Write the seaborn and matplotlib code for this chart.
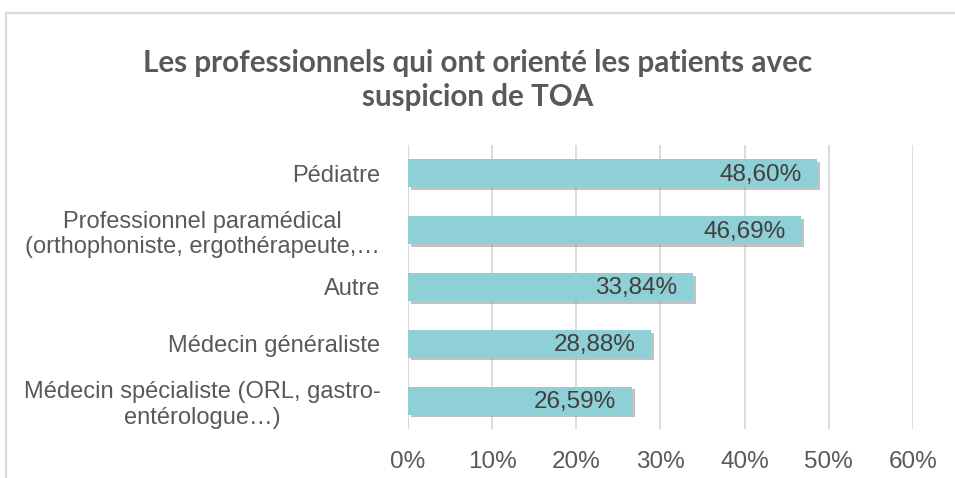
import matplotlib
matplotlib.use("Agg")
import matplotlib.pyplot as plt
import matplotlib.patheffects as pe
from matplotlib.lines import Line2D
from matplotlib.ticker import FuncFormatter
import pandas as pd
import seaborn as sns

# data
categories = [
    "Pédiatre",
    "Professionnel paramédical\n(orthophoniste, ergothérapeute,…",
    "Autre",
    "Médecin généraliste",
    "Médecin spécialiste (ORL, gastro-\nentérologue…)",
]
values = [48.60, 46.69, 33.84, 28.88, 26.59]
value_labels = ["48,60%", "46,69%", "33,84%", "28,88%", "26,59%"]
x_ticks = [0, 10, 20, 30, 40, 50, 60]

title = "Les professionnels qui ont orienté les patients avec\nsuspicion de TOA"

df = pd.DataFrame({"categorie": categories, "pourcentage": values})

sns.set_theme(style="white")
plt.rcParams["font.family"] = ["Liberation Sans", "DejaVu Sans"]

fig = plt.figure(figsize=(9.55, 4.78), dpi=100)
ax = fig.add_axes([0.4272, 0.1025, 0.5288, 0.5942])

sns.barplot(data=df, x="pourcentage", y="categorie", orient="h",
            color="#8fcfd6", saturation=1, width=0.49, ax=ax)

for bar in ax.patches:
    bar.set_edgecolor("none")
    bar.set_path_effects([pe.SimplePatchShadow(offset=(2, -2), shadow_rgbFace="#9a9a9a", alpha=0.6),
                          pe.Normal()])

# value labels inside the bar end
for bar, lab in zip(ax.patches, value_labels):
    ax.annotate(lab, (bar.get_width(), bar.get_y() + bar.get_height() / 2),
                xytext=(-11, -1), textcoords="offset points",
                ha="right", va="center", fontsize=17.5, color="#404040")

ax.set_xlim(0, 60)
ax.set_xticks(x_ticks)
ax.xaxis.set_major_formatter(FuncFormatter(lambda v, p: f"{v:.0f}%"))
ax.set_xlabel("")
ax.set_ylabel("")
ax.grid(axis="x", color="#d9d9d9", linewidth=1.3)
ax.set_axisbelow(True)
for s in ax.spines.values():
    s.set_visible(False)
ax.axvline(0, color="#d9d9d9", linewidth=1.5, zorder=0)

ax.tick_params(axis="x", length=0, pad=16, labelsize=17.5, labelcolor="#595959")
ax.tick_params(axis="y", length=0, pad=20, labelsize=17, labelcolor="#595959")
for t in ax.get_yticklabels():
    t.set_multialignment("center")

fig.text(0.5, 0.833, title, ha="center", va="center", fontsize=21.3,
         fontweight="bold", color="#595959", family=["Lato", "DejaVu Sans"],
         linespacing=1.25)

# outer chart frame (left and top edges only visible)
fig.add_artist(Line2D([0.0068, 0.0068], [0, 0.973], color="#d9d9d9", linewidth=1.6))
fig.add_artist(Line2D([0.0068, 1], [0.973, 0.973], color="#d9d9d9", linewidth=1.6))

fig.savefig("out.png", dpi=100, facecolor="white")
